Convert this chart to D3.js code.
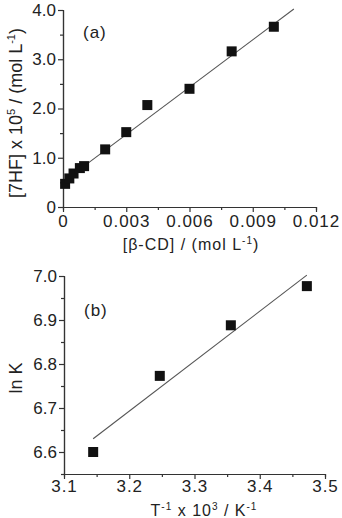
<!DOCTYPE html>
<html>
<head>
<meta charset="utf-8">
<script src="https://cdn.jsdelivr.net/npm/d3@7"></script>
<style>
  body { margin: 0; background: #fff; }
  svg { display: block; font-family: "Liberation Sans", Arial, sans-serif; }
</style>
</head>
<body>
<svg width="342" height="518"></svg>
<script>
// panel (a): [7HF] vs [beta-CD]
const cdConc = [0.0001, 0.0003, 0.0005, 0.0008, 0.001, 0.002, 0.003, 0.004, 0.006, 0.008, 0.010]
const hfConc = [0.47, 0.58, 0.68, 0.79, 0.83, 1.17, 1.52, 2.07, 2.40, 3.16, 3.66]
const fitA = [[0, 0.51], [0.01095, 4.02]]
const xTicksA = [0, 0.003, 0.006, 0.009, 0.012]
const yTicksA = [0, 1, 2, 3, 4]

// panel (b): ln K vs 1/T
const invT = [3.1447, 3.2468, 3.3557, 3.4722]
const lnK = [6.600, 6.773, 6.888, 6.977]
const fitB = [[3.1447, 6.630], [3.4722, 7.002]]
const xTicksB = [3.1, 3.2, 3.3, 3.4, 3.5]
const yTicksB = [6.6, 6.7, 6.8, 6.9, 7.0]

const svg = d3.select('svg')
const axisCol = '#333'
const sq = 10

function drawPanel(o) {
  let g = svg.append('g')
  let x = d3.scaleLinear().domain(o.xdom).range(o.xr)
  let y = d3.scaleLinear().domain(o.ydom).range(o.yr)

  // minor ticks
  let xa = d3.axisBottom(x).tickValues(o.xMinor).tickSize(3).tickFormat('')
  let ya = d3.axisLeft(y).tickValues(o.yMinor).tickSize(3).tickFormat('')
  g.append('g').attr('transform', `translate(0,${o.yr[0]})`).call(xa)
  g.append('g').attr('transform', `translate(${o.xr[0]},0)`).call(ya)

  let xAxis = d3.axisBottom(x).tickValues(o.xTicks).tickSize(5).tickSizeOuter(0).tickPadding(o.xPad).tickFormat(o.xFmt)
  let yAxis = d3.axisLeft(y).tickValues(o.yTicks).tickSize(5).tickSizeOuter(0).tickPadding(2).tickFormat(o.yFmt)

  let gx = g.append('g').attr('transform', `translate(0,${o.yr[0]})`).call(xAxis)
  g.append('g').attr('transform', `translate(${o.xr[0]},0)`).call(yAxis)

  g.selectAll('.domain, .tick line').attr('stroke', axisCol).attr('stroke-width', 1.2)
  g.selectAll('.tick text').attr('fill', '#222').style('font-size', '17px')
  gx.selectAll('.tick text').style('letter-spacing', '1px')

  g.append('path')
  .attr('fill', 'none')
  .attr('stroke', '#555')
  .attr('stroke-width', 1.1)
  .attr('d', d3.line().x(d => x(d[0])).y(d => y(d[1]))(o.fit))

  g.selectAll('rect.pt')
  .data(o.xs).enter().append('rect')
  .attr('class', 'pt')
  .attr('x', d => x(d) - sq / 2)
  .attr('y', (d, i) => y(o.ys[i]) - sq / 2)
  .attr('width', sq).attr('height', sq)
  .attr('fill', '#111')

  g.append('text')
  .attr('x', o.xr[0] + 20).attr('y', o.labelY)
  .attr('fill', '#222').style('font-size', '17px').style('letter-spacing', '1px')
  .text(o.label)

  return { g, x, y }
}

drawPanel({
  xdom: [0, 0.012], xr: [63, 316],
  ydom: [0, 4], yr: [207, 10],
  xTicks: xTicksA, yTicks: yTicksA,
  xMinor: [0.0015, 0.0045, 0.0075, 0.0105],
  yMinor: [0.5, 1.5, 2.5, 3.5],
  xFmt: d => d === 0 ? '0' : d3.format('.3f')(d),
  yFmt: d => d === 0 ? '0' : d3.format('.1f')(d),
  xPad: 3,
  fit: fitA, xs: cdConc, ys: hfConc,
  label: '(a)', labelY: 38
})

drawPanel({
  xdom: [3.1, 3.5], xr: [64, 325],
  ydom: [6.55, 7.0], yr: [474, 276],
  xTicks: xTicksB, yTicks: yTicksB,
  xMinor: [3.15, 3.25, 3.35, 3.45],
  yMinor: [6.55, 6.65, 6.75, 6.85, 6.95],
  xFmt: d3.format('.1f'),
  yFmt: d3.format('.1f'),
  xPad: 1,
  fit: fitB, xs: invT, ys: lnK,
  label: '(b)', labelY: 316
})

// axis titles
let t1 = svg.append('text')
.attr('transform', 'translate(22,113) rotate(-90)')
.attr('text-anchor', 'middle').attr('fill', '#222').style('font-size', '18px')
t1.append('tspan').text('[7HF] x 10')
t1.append('tspan').attr('dy', -7).style('font-size', '11px').text('5')
t1.append('tspan').attr('dy', 7).text(' / (mol L')
t1.append('tspan').attr('dy', -7).style('font-size', '11px').text('-1')
t1.append('tspan').attr('dy', 7).text(')')

let t2 = svg.append('text')
.attr('x', 191).attr('y', 250)
.attr('text-anchor', 'middle').attr('fill', '#222')
.style('font-size', '16px').style('letter-spacing', '1px')
t2.append('tspan').text('[β-CD] / (mol L')
t2.append('tspan').attr('dy', -6).style('font-size', '10px').text('-1')
t2.append('tspan').attr('dy', 6).text(')')

svg.append('text')
.attr('transform', 'translate(22,378) rotate(-90)')
.attr('text-anchor', 'middle').attr('fill', '#222').style('font-size', '18px')
.text('ln K')

let t3 = svg.append('text')
.attr('x', 204).attr('y', 516)
.attr('text-anchor', 'middle').attr('fill', '#222')
.style('font-size', '16px').style('letter-spacing', '1px')
t3.append('tspan').text('T')
t3.append('tspan').attr('dy', -6).style('font-size', '10px').text('-1')
t3.append('tspan').attr('dy', 6).text(' x 10')
t3.append('tspan').attr('dy', -6).style('font-size', '10px').text('3')
t3.append('tspan').attr('dy', 6).text(' / K')
t3.append('tspan').attr('dy', -6).style('font-size', '10px').text('-1')
</script>
</body>
</html>
